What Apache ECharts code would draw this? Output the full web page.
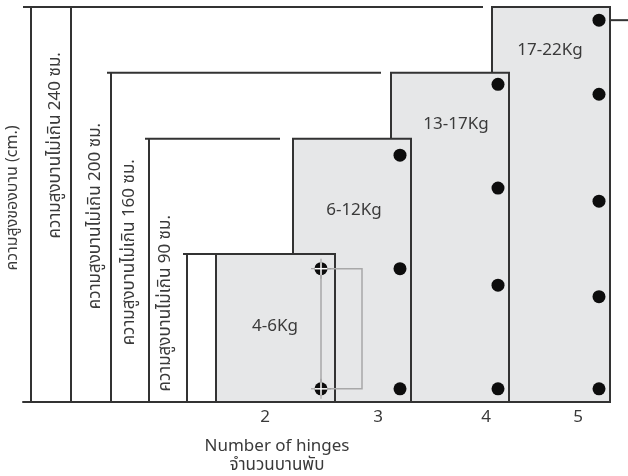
<!DOCTYPE html>
<html><head><meta charset="utf-8">
<script src="https://cdn.jsdelivr.net/npm/echarts@6/dist/echarts.min.js"></script>
<style>html,body{margin:0;padding:0;background:#fff}#c{width:628px;height:476px}</style>
</head><body><div id="c"></div>
<script>
// ---- data ----
const hingeCounts = [2, 3, 4, 5];                       // x tick labels
const weightRanges = ['4-6Kg', '6-12Kg', '13-17Kg', '17-22Kg'];
const maxHeights = [90, 160, 200, 240];                 // door height limit (cm)
const heightLabels = ['ความสูงบานไม่เกิน 90 ซม.', 'ความสูงบานไม่เกิน 160 ซม.', 'ความสูงบานไม่เกิน 200 ซม.', 'ความสูงบานไม่เกิน 240 ซม.'];
const hingesDoor1 = [8, 81];                            // hinge heights (cm)
const hingesDoor2 = [8, 81, 150];
const hingesDoor3 = [8, 71, 130, 193];
const hingesDoor4 = [8, 64, 122, 187, 232];
const yAxisTitle = 'ความสูงของบาน (cm.)';
const xAxisTitle = 'Number of hinges';
const xAxisTitleTh = 'จำนวนบานพับ';

// ---- layout (x in layout units along a hidden x scale) ----
const layout = {
  doorX: [[1.85, 3.04], [2.62, 3.80], [3.60, 4.78], [4.61, 5.79]],
  hingeX: [2.90, 3.69, 4.67, 5.68],
  tickX: [2.34, 3.47, 4.55, 5.47],
  bracketX: [1.56, 1.18, 0.80, 0.40],
  bracketStart: [1.52, 1.14, 0.76, -0.08],
  bracketEnd: [1.85, 2.49, 3.50, 4.52],
  bracketTextX: [1.36, 1.00, 0.66, 0.26],
  bracketTextY: [60, 91, 113, 156],
  weightLabel: [[2.44, 45], [3.23, 116], [4.25, 168], [5.19, 213]],
  guideRight: 3.31,
  frameRight: 5.97
};

const FONT = "'Noto Sans Thai','Noto Sans Thai Looped','Noto Sans','Open Sans',sans-serif";
const INK = '#333333';
const TXT = '#3a3a3a';
const hingeSets = [hingesDoor1, hingesDoor2, hingesDoor3, hingesDoor4];

const doorData = [3, 2, 1, 0].map(i => [layout.doorX[i][0], layout.doorX[i][1], maxHeights[i], i]);
const hingeData = [];
hingeSets.forEach((set, i) => set.forEach(h => hingeData.push([layout.hingeX[i], h, i])));

const chart = echarts.init(document.getElementById('c'));
chart.setOption({
  animation: false,
  backgroundColor: '#fff',
  grid: { left: 23, right: 18, top: 7, bottom: 74, containLabel: false, outerBoundsMode: 'none' },
  xAxis: {
    type: 'value', min: -0.08, max: 5.79,
    axisLine: { show: true, lineStyle: { color: INK, width: 2 } },
    axisTick: { show: false }, splitLine: { show: false },
    axisLabel: {
      show: true, customValues: layout.tickX, margin: 8,
      fontSize: 17, color: TXT, fontFamily: FONT,
      formatter: v => { const k = layout.tickX.findIndex(t => Math.abs(t - v) < 1e-6); return k >= 0 ? String(hingeCounts[k]) : ''; }
    }
  },
  yAxis: {
    type: 'value', min: 0, max: 240,
    axisLine: { show: true, onZero: true, lineStyle: { color: INK, width: 2 } },
    axisTick: { show: false }, splitLine: { show: false }, axisLabel: { show: false }
  },
  graphic: [
    { type: 'text', x: 14, y: 198, rotation: Math.PI / 2, style: { text: yAxisTitle, align: 'center', verticalAlign: 'middle', fill: TXT, font: '16px ' + FONT } },
    { type: 'text', x: 277, y: 448, style: { text: xAxisTitle, align: 'center', verticalAlign: 'middle', fill: TXT, font: '17px ' + FONT } },
    { type: 'text', x: 277, y: 467, style: { text: xAxisTitleTh, align: 'center', verticalAlign: 'middle', fill: TXT, font: '17px ' + FONT } }
  ],
  series: [
    { // height brackets
      type: 'custom', z: 2,
      data: maxHeights.map((h, i) => [layout.bracketX[i], h, i]),
      renderItem: (params, api) => {
        const i = api.value(2), h = api.value(1), vx = api.value(0);
        const b = api.coord([vx, 0]), t = api.coord([vx, h]);
        const s = api.coord([layout.bracketStart[i], h]), e = api.coord([layout.bracketEnd[i], h]);
        const tc = api.coord([layout.bracketTextX[i], layout.bracketTextY[i]]);
        return { type: 'group', children: [
          { type: 'line', shape: { x1: b[0], y1: b[1], x2: t[0], y2: t[1] }, style: { stroke: INK, lineWidth: 2 } },
          { type: 'line', shape: { x1: s[0], y1: s[1], x2: e[0], y2: e[1] }, style: { stroke: INK, lineWidth: 2 } },
          { type: 'text', x: tc[0], y: tc[1], rotation: Math.PI / 2,
            style: { text: heightLabels[i], align: 'center', verticalAlign: 'middle', fill: TXT, font: '17px ' + FONT } }
        ] };
      }
    },
    { // doors
      type: 'custom', z: 3,
      data: doorData,
      renderItem: (params, api) => {
        const i = api.value(3);
        const tl = api.coord([api.value(0), api.value(2)]), br = api.coord([api.value(1), 0]);
        const lc = api.coord(layout.weightLabel[i]);
        return { type: 'group', z2: 10 - i, children: [
          { type: 'rect', z2: 20 - 2 * i, shape: { x: tl[0], y: tl[1], width: br[0] - tl[0], height: br[1] - tl[1] },
            style: { fill: '#e6e7e8', stroke: INK, lineWidth: 2 } },
          { type: 'text', z2: 21 - 2 * i, x: lc[0], y: lc[1],
            style: { text: weightRanges[i], align: 'center', verticalAlign: 'middle', fill: TXT, font: '17px ' + FONT } }
        ] };
      }
    },
    { // guide bracket between first door hinges + frame stub
      type: 'custom', z: 4,
      data: [[layout.hingeX[0], hingesDoor1[0], hingesDoor1[1]]],
      renderItem: (params, api) => {
        const a = api.coord([api.value(0), api.value(2)]);
        const b = api.coord([layout.guideRight, api.value(1)]);
        const f1 = api.coord([layout.doorX[3][1], hingesDoor4[hingesDoor4.length - 1]]);
        const f2 = api.coord([layout.frameRight, hingesDoor4[hingesDoor4.length - 1]]);
        return { type: 'group', children: [
          { type: 'rect', shape: { x: a[0], y: a[1], width: b[0] - a[0], height: b[1] - a[1] },
            style: { fill: 'none', stroke: '#a8a8a8', lineWidth: 1.5 } },
          { type: 'line', shape: { x1: f1[0], y1: f1[1], x2: f2[0], y2: f2[1] }, style: { stroke: INK, lineWidth: 2 } }
        ] };
      }
    },
    { // hinges
      type: 'custom', z: 5,
      data: hingeData,
      renderItem: (params, api) => {
        const p = api.coord([api.value(0), api.value(1)]);
        const door = api.value(2);
        const r = 6.5;
        const dot = { type: 'circle', shape: { cx: p[0], cy: p[1], r: r }, style: { fill: '#0d0d0d' } };
        if (door !== 0) return dot;
        return { type: 'group', children: [
          { type: 'line', shape: { x1: p[0] - 10, y1: p[1], x2: p[0] + 10, y2: p[1] }, style: { stroke: '#9a9a9a', lineWidth: 1 } },
          { type: 'line', shape: { x1: p[0], y1: p[1] - 10, x2: p[0], y2: p[1] + 10 }, style: { stroke: '#9a9a9a', lineWidth: 1 } },
          dot,
          { type: 'line', shape: { x1: p[0] - r, y1: p[1], x2: p[0] + r, y2: p[1] }, style: { stroke: '#fff', lineWidth: 1.5 } },
          { type: 'line', shape: { x1: p[0], y1: p[1] - r, x2: p[0], y2: p[1] + r }, style: { stroke: '#fff', lineWidth: 1.5 } }
        ] };
      }
    }
  ]
});
</script></body></html>
